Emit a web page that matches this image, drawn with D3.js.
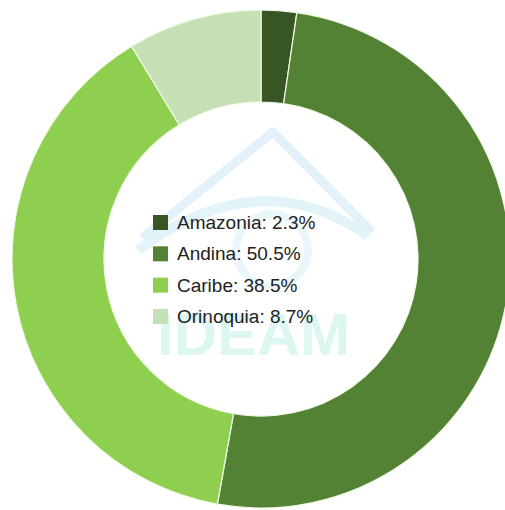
<!DOCTYPE html>
<meta charset="utf-8">
<body style="margin:0;background:#fff">
<svg id="chart"></svg>
</body>

<style>
.legend text {
  font-family: "Liberation Sans", Arial, sans-serif;
  font-size: 19px;
  fill: #222;
}
.marca text {
  font-family: "Liberation Sans", Arial, sans-serif;
  font-weight: bold;
  font-size: 60px;
  fill: #dcf6f1;
}
</style>

<script src="https://d3js.org/d3.v7.min.js"></script>
<script>

// datos
var regiones = ["Amazonia", "Andina", "Caribe", "Orinoquia"];
var porcentajes = [2.3, 50.5, 38.5, 8.7];
var colores = ["#375623", "#548235", "#8fcf4f", "#c5e0b4"];

var width = 505, height = 510;
var cx = 261, cy = 259;

var svg = d3.select("#chart")
    .attr("width", width)
    .attr("height", height);

// marca de agua (logo IDEAM, muy tenue)
var marca = svg.append("g").attr("class", "marca");

marca.append("path")
    .attr("d", "M142,238 L273,132 L372,232")
    .attr("fill", "none")
    .attr("stroke", "#e2f1fa")
    .attr("stroke-width", 9)
    .attr("stroke-linejoin", "round");

marca.append("path")
    .attr("d", "M138,250 Q260,160 368,236")
    .attr("fill", "none")
    .attr("stroke", "#e3f4f9")
    .attr("stroke-width", 10);

marca.append("circle")
    .attr("cx", 272).attr("cy", 250).attr("r", 36)
    .attr("fill", "none")
    .attr("stroke", "#eaf6fa")
    .attr("stroke-width", 8);

marca.append("text")
    .attr("x", 157)
    .attr("y", 355)
    .text("IDEAM");

// dona
var pie = d3.pie().sort(null).value(d => d);
var arc = d3.arc().innerRadius(157).outerRadius(249);

svg.append("g")
    .attr("transform", "translate(" + cx + "," + cy + ")")
  .selectAll("path")
  .data(pie(porcentajes))
  .enter()
  .append("path")
    .attr("d", arc)
    .attr("fill", (d, i) => colores[i])
    .attr("stroke", "#f2fae8")
    .attr("stroke-width", 1.2);

// leyenda
var y = d3.scalePoint().domain(regiones).range([222.5, 316.5]);

var legend = svg.append("g").attr("class", "legend")
  .selectAll("g")
  .data(regiones)
  .enter()
  .append("g")
    .attr("transform", d => "translate(153," + y(d) + ")");

legend.append("rect")
    .attr("x", 0).attr("y", -7.5)
    .attr("width", 15).attr("height", 15)
    .attr("fill", (d, i) => colores[i]);

legend.append("text")
    .attr("x", 24)
    .attr("y", 0)
    .attr("dy", "0.35em")
    .text((d, i) => d + ": " + porcentajes[i] + "%");

</script>
